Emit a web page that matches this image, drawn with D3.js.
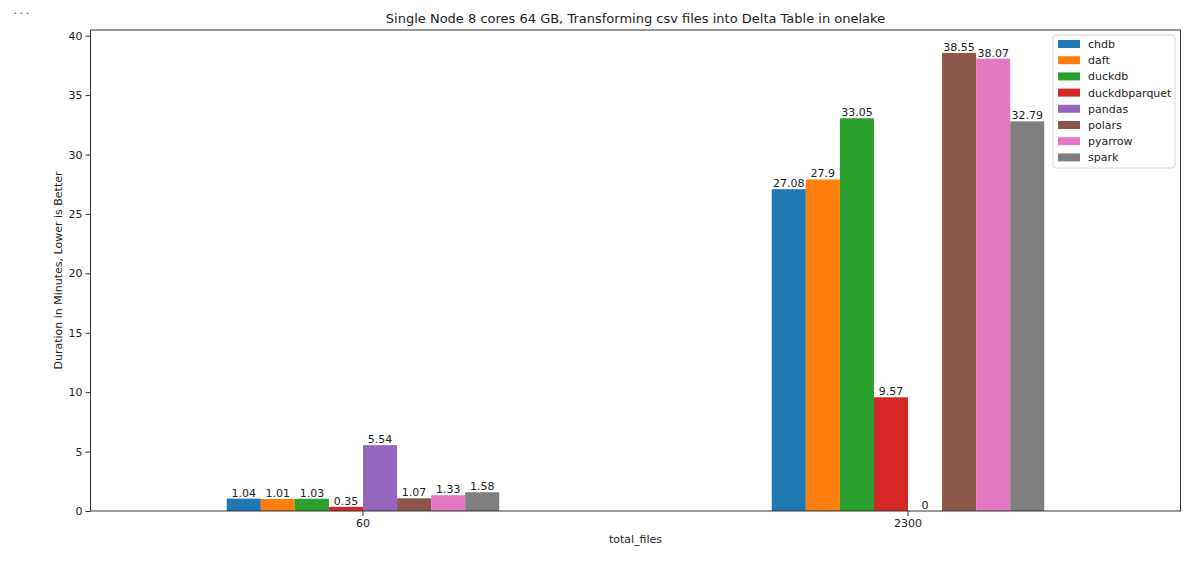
<!DOCTYPE html>
<html>
<head>
<meta charset="utf-8">
<script src="https://cdn.jsdelivr.net/npm/d3@7"></script>
<style>
  body { margin: 0; background: #fff; }
  text { font-family: "DejaVu Sans", sans-serif; fill: #222; }
</style>
</head>
<body>
<div id="chart"></div>
<script>
// data
const groups = ["60", "2300"];
const engines = ["chdb", "daft", "duckdb", "duckdbparquet", "pandas", "polars", "pyarrow", "spark"];
const colors = ["#1f77b4", "#ff7f0e", "#2ca02c", "#d62728", "#9467bd", "#8c564b", "#e377c2", "#7f7f7f"];
const values60 = [1.04, 1.01, 1.03, 0.35, 5.54, 1.07, 1.33, 1.58];
const values2300 = [27.08, 27.9, 33.05, 9.57, 0, 38.55, 38.07, 32.79];
const yTicks = [0, 5, 10, 15, 20, 25, 30, 35, 40];

const width = 1200, height = 564;
const margin = {top: 30, right: 19.5, bottom: 53, left: 90.5};

const svg = d3.select("#chart").append("svg")
    .attr("width", width)
    .attr("height", height);

// rows for the bars
const rows = [];
groups.forEach((g, gi) => {
    const vals = gi == 0 ? values60 : values2300;
    engines.forEach((e, ei) => rows.push({group: g, engine: e, value: vals[ei], color: colors[ei]}));
});

const x = d3.scaleBand()
    .domain(groups)
    .range([margin.left, width - margin.right])
    .paddingInner(0.5)
    .paddingOuter(0.25);

const xInner = d3.scaleBand()
    .domain(engines)
    .range([0, x.bandwidth()]);

const yMax = d3.max(values60.concat(values2300)) * 1.05;
const y = d3.scaleLinear()
    .domain([0, yMax])
    .range([height - margin.bottom, margin.top]);

// bars
svg.append("g").selectAll("rect")
    .data(rows)
    .join("rect")
      .attr("x", d => x(d.group) + xInner(d.engine))
      .attr("y", d => y(d.value))
      .attr("width", xInner.bandwidth())
      .attr("height", d => y(0) - y(d.value))
      .attr("fill", d => d.color);

// value labels on top of bars
svg.append("g").selectAll("text")
    .data(rows)
    .join("text")
      .attr("x", d => x(d.group) + xInner(d.engine) + xInner.bandwidth() / 2)
      .attr("y", d => y(d.value) - 2)
      .attr("text-anchor", "middle")
      .style("font-size", "11px")
      .text(d => d.value);

// axes
const yAxis = svg.append("g")
    .attr("transform", `translate(${margin.left},0)`)
    .call(d3.axisLeft(y).tickValues(yTicks).tickSize(5).tickPadding(3));
yAxis.select(".domain").remove();

const xAxis = svg.append("g")
    .attr("transform", `translate(0,${height - margin.bottom})`)
    .call(d3.axisBottom(x).tickSize(5).tickPadding(3));
xAxis.select(".domain").remove();

svg.selectAll(".tick text").style("font-size", "11px").attr("fill", "#222");
svg.selectAll(".tick line").attr("stroke", "#333");

// frame round the plot
svg.append("rect")
    .attr("x", margin.left)
    .attr("y", margin.top)
    .attr("width", width - margin.left - margin.right)
    .attr("height", height - margin.top - margin.bottom)
    .attr("fill", "none")
    .attr("stroke", "#333")
    .attr("stroke-width", 1);

// title and axis labels
const cx = margin.left + (width - margin.left - margin.right) / 2;
svg.append("text")
    .attr("x", cx).attr("y", 23)
    .attr("text-anchor", "middle")
    .style("font-size", "13px")
    .text("Single Node 8 cores 64 GB, Transforming csv files into Delta Table in onelake");

svg.append("text")
    .attr("x", cx).attr("y", 543)
    .attr("text-anchor", "middle")
    .style("font-size", "11px")
    .text("total_files");

svg.append("text")
    .attr("transform", `translate(62,${margin.top + (height - margin.top - margin.bottom) / 2}) rotate(-90)`)
    .attr("text-anchor", "middle")
    .style("font-size", "11px")
    .text("Duration in Minutes, Lower is Better");

// the little notebook dots at the top left
svg.append("text")
    .attr("x", 13.5).attr("y", 14)
    .style("font-size", "11px")
    .style("letter-spacing", "2.6px")
    .style("fill", "#555")
    .text("...");

// legend
const legend = svg.append("g").attr("transform", "translate(1053,35)");
legend.append("rect")
    .attr("width", 122).attr("height", 133)
    .attr("rx", 3)
    .attr("fill", "#fff").attr("fill-opacity", 0.8)
    .attr("stroke", "#d6d6d6");

const item = legend.selectAll("g.item")
    .data(engines)
    .join("g")
      .attr("class", "item")
      .attr("transform", (d, i) => `translate(5,${9 + i * 16.2})`);

item.append("rect")
    .attr("width", 22).attr("height", 8)
    .attr("y", -4)
    .attr("fill", (d, i) => colors[i]);

item.append("text")
    .attr("x", 30).attr("y", 4)
    .style("font-size", "11px")
    .text(d => d);
</script>
</body>
</html>
